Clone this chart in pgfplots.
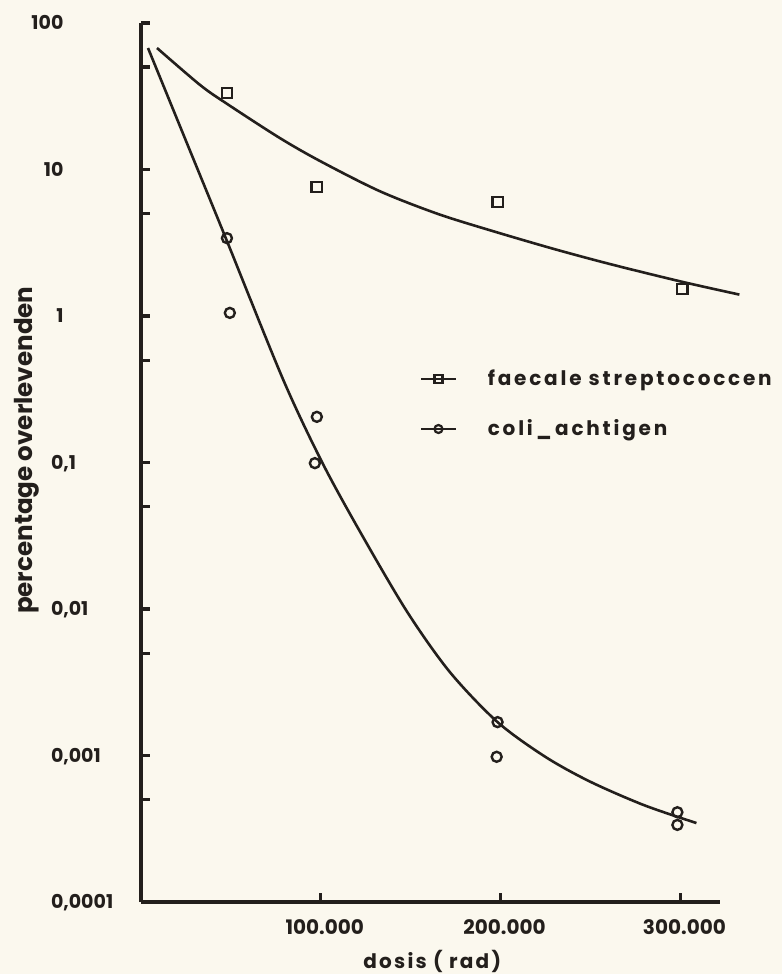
\documentclass[border=0pt]{standalone}
\usepackage{fontspec}
\setmainfont{Poppins}
\newfontfamily\lsfont{Poppins}[LetterSpace=14]
\newfontfamily\xlfont{Poppins}[LetterSpace=11]
\usepackage{pgfplots}
\pgfplotsset{compat=1.18}
\definecolor{ink}{RGB}{35,31,28}
\definecolor{paper}{RGB}{251,248,238}
\newcommand{\dl}[2]{\makebox[14pt][r]{#1}\makebox[30pt][l]{#2}}
\tikzset{ylab/.style={anchor=base west, inner sep=0pt, xshift=-53pt, yshift=-3.3pt, text=ink, font=\bfseries\fontsize{9.5}{11}\selectfont}}
\begin{document}
\begin{tikzpicture}[x=1pt,y=1pt]
\fill[paper] (-70.5,-36) rectangle (320.5,451);
\begin{axis}[
  at={(0,0)}, anchor=south west,
  scale only axis, width=289.5pt, height=439.5pt,
  xmin=0, xmax=322, ymin=1e-4, ymax=100, ymode=log,
  axis x line=bottom, axis y line=left,
  axis line style={-, line width=2pt, ink},
  clip=false,
  xtick={100,200,300}, xticklabels={100.000,200.000,300.000},
  ytick={1e-4,1e-3,1e-2,1e-1,1,10,100},
  yticklabels={},
  minor ytick={5e-4,5e-3,5e-2,0.5,5,50},
  minor xtick={},
  tick align=inside,
  major tick length=4.5pt, minor tick length=4.5pt,
  tick style={line width=1.6pt, ink},
  xticklabel style={font=\bfseries\fontsize{10}{12}\selectfont, text=ink, anchor=north, inner sep=0pt, yshift=-8.5pt, xshift=2pt},
  xlabel={dosis ( rad)},
  xlabel style={at={(axis description cs:0.503,-0.0762)}, anchor=base, font=\xlfont\bfseries\fontsize{10}{12}\selectfont, text=ink, inner sep=0pt},
  ylabel={percentage overlevenden},
  ylabel style={at={(axis description cs:-0.197,0.514)}, anchor=center, font=\bfseries\fontsize{12.3}{14}\selectfont, text=ink, inner sep=0pt},
  legend style={draw=none, fill=none, at={(axis description cs:0.471,0.615)}, anchor=north west,
    font=\lsfont\bfseries\fontsize{10}{12}\selectfont, text=ink, row sep=11.5pt,
    /tikz/every even column/.append style={column sep=0pt}},
  legend cell align=left,
]
\addlegendimage{ink, line width=1.3pt, mark=square, mark size=2pt, mark options={solid, line width=1.1pt}}
\addlegendentry{\hspace{13.5pt}faecale streptococcen}
\addlegendimage{ink, line width=1.3pt, mark=o, mark size=2pt, mark options={solid, line width=1.1pt, fill=paper}}
\addlegendentry{\hspace{13.5pt}coli\,\_\,achtigen}

% faecale streptococcen: fitted curve
\addplot[ink, line width=1.3pt, smooth, tension=0.5, forget plot] coordinates {
 (8.9,67.5) (32.8,37.8) (47.2,28.4) (77.2,16.4) (100,11.35) (132.8,7.11) (165,4.98) (195.6,3.80) (230,2.86) (262.2,2.24) (301.1,1.71) (332.8,1.40)};
% coli-achtigen: fitted curve
\addplot[ink, line width=1.3pt, smooth, tension=0.5, forget plot] coordinates {
 (3.9,67.5) (25,15.7) (47.2,3.39) (78.9,0.372) (100.6,0.101) (121.7,0.0339) (147.8,0.00966) (171.7,0.00372) (198.3,0.00169) (225,0.000977) (250,0.000661) (280,0.000457) (308.9,0.000346)};
% measurements
\addplot[only marks, forget plot, mark=square, mark size=2.6pt, mark options={ink, line width=1.2pt, fill=none}] coordinates {
 (47.8,33.3) (97.8,7.6) (198.3,6.0) (301.0,1.53)};
\addplot[only marks, forget plot, mark=o, mark size=2.5pt, mark options={ink, line width=1.2pt, fill=none}] coordinates {
 (47.8,3.40) (49.4,1.05) (97.8,0.205) (96.7,0.099) (198.3,0.00169) (197.8,0.00098) (298.3,0.000410) (298.3,0.000336)};

% y tick labels (decimal-comma aligned)
\node[ylab] at (axis cs:0,100) {\dl{100}{}};
\node[ylab] at (axis cs:0,10) {\dl{10}{}};
\node[ylab] at (axis cs:0,1) {\dl{1}{}};
\node[ylab] at (axis cs:0,0.1) {\dl{0}{,1}};
\node[ylab] at (axis cs:0,0.01) {\dl{0}{,01}};
\node[ylab] at (axis cs:0,0.001) {\dl{0}{,001}};
\node[ylab] at (axis cs:0,0.0001) {\dl{0}{,0001}};
\end{axis}
\pgfresetboundingbox
\path (-70.5,-36) rectangle (320.5,451);
\end{tikzpicture}
\end{document}
